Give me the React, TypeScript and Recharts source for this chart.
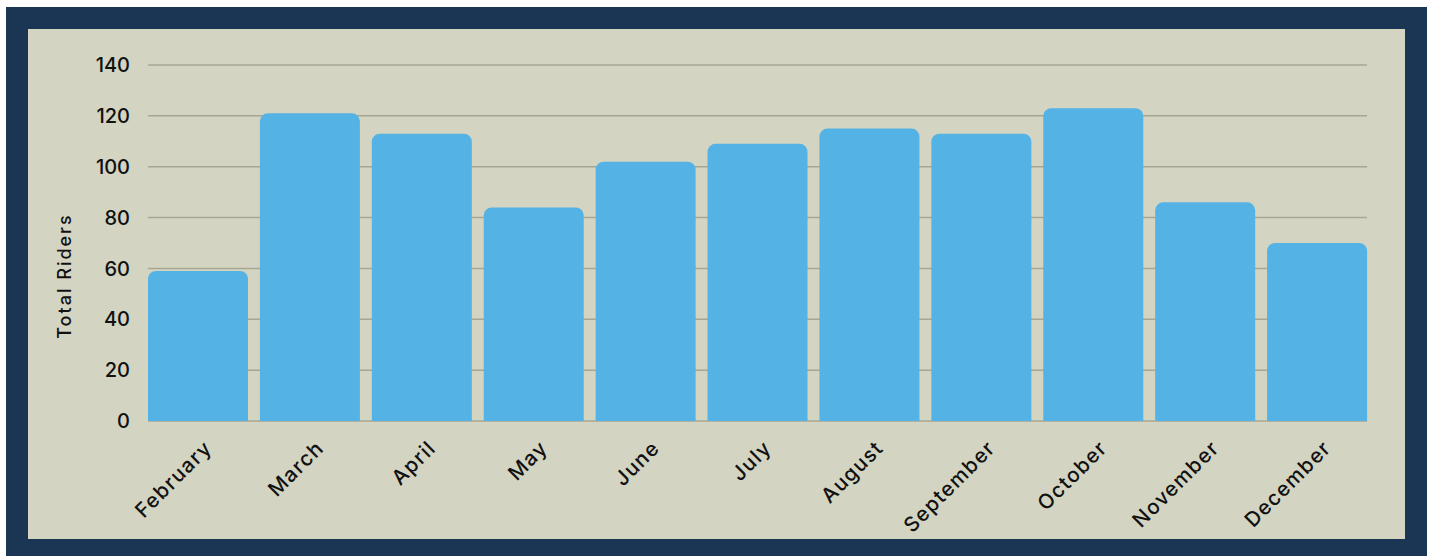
import React from "react";
import { BarChart, Bar, XAxis, YAxis, CartesianGrid } from "recharts";

const months = ["February", "March", "April", "May", "June", "July", "August", "September", "October", "November", "December"];
const riders = [59, 121, 113, 84, 102, 109, 115, 113, 123, 86, 70];
const yTicks = [0, 20, 40, 60, 80, 100, 120, 140];

const data = months.map((m, i) => ({ month: m, riders: riders[i] }));

const FONT = "Inter, 'Noto Sans', sans-serif";

const MonthTick = (props: any) => {
  const { x, y, payload } = props;
  const tx = x + 4;
  const ty = y + 9;
  return (
    <text
      x={tx}
      y={ty}
      transform={`rotate(-45, ${tx}, ${ty})`}
      textAnchor="end"
      dominantBaseline="hanging"
      fontSize={20.5}
      fontWeight={500}
      letterSpacing={1.3}
      fontFamily={FONT}
      fill="#111"
    >
      {payload.value}
    </text>
  );
};

const App: React.FC = () => {
  return (
    <div
      style={{
        position: "absolute",
        left: 6,
        top: 7,
        width: 1377,
        height: 510,
        border: "22px solid #1a3654",
        background: "#d3d4c2",
      }}
    >
      <BarChart
        width={1377}
        height={510}
        data={data}
        margin={{ top: 36, right: 38, left: 20, bottom: 0 }}
        barCategoryGap={0}
      >
        <CartesianGrid vertical={false} stroke="#a6a793" strokeWidth={1.5} />
        <XAxis
          dataKey="month"
          axisLine={false}
          tickLine={false}
          interval={0}
          height={118}
          tick={<MonthTick />}
          padding={{ left: -6, right: -6 }}
        />
        <YAxis
          width={100}
          domain={[0, 140]}
          ticks={yTicks}
          axisLine={false}
          tickLine={false}
          tickSize={0}
          tickMargin={18}
          tick={{ fontSize: 20, fontWeight: 500, fontFamily: FONT, fill: "#111" }}
          label={{
            content: (p: any) => {
              const vb = p.viewBox;
              const cx = vb.x + 16;
              const cy = 247;
              return (
                <text
                  x={cx}
                  y={cy}
                  transform={`rotate(-90, ${cx}, ${cy})`}
                  textAnchor="middle"
                  dominantBaseline="central"
                  fontSize={18}
                  fontWeight={500}
                  letterSpacing={2}
                  fontFamily={FONT}
                  fill="#111"
                >
                  Total Riders
                </text>
              );
            },
          }}
        />
        <Bar
          dataKey="riders"
          fill="#54b3e4"
          barSize={100}
          radius={[8, 8, 0, 0]}
          isAnimationActive={false}
        />
      </BarChart>
    </div>
  );
};

export default App;
